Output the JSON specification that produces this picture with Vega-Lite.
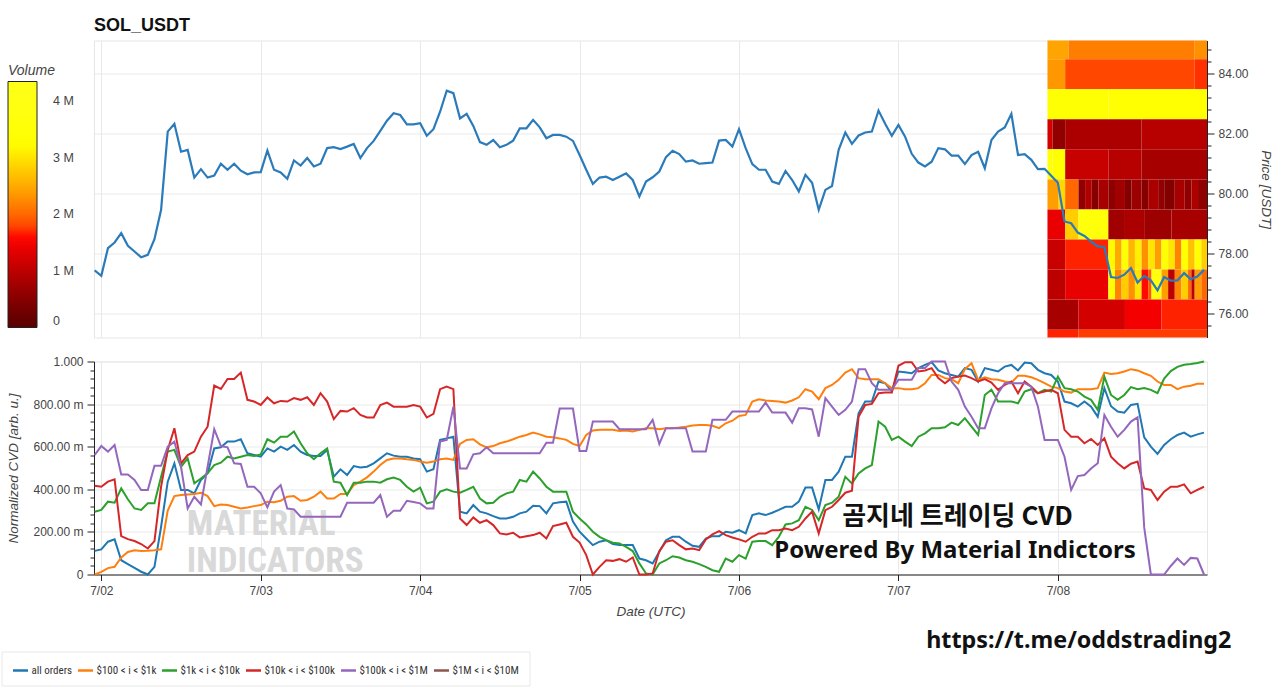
{
"$schema": "https://vega.github.io/schema/vega-lite/v6.json",
"padding": {"left": 0, "top": 15.5, "right": 0, "bottom": 0},
"background": "white",
"config": {
 "font": "Liberation Sans",
 "view": {"stroke": "#e6e6e6"},
 "axis": {"gridColor": "#e9e9e9", "gridWidth": 1, "domainColor": "#222", "tickColor": "#222", "labelColor": "#444", "labelFont": "Liberation Sans", "labelFontSize": 12, "titleFont": "Liberation Sans", "titleFontSize": 13.5, "titleFontStyle": "italic", "titleFontWeight": "normal", "titleColor": "#444"},
 "legend": {"labelFont": "Liberation Sans", "titleFont": "Liberation Sans"}
},
"datasets": {
"m": [
{"t":"2023-07-01T23:00Z","p":77.44,"a":0.111,"b":0,"c":0.295,"d":0.417,"e":0.561},
{"t":"2023-07-02T00:00Z","p":77.26,"a":0.118,"b":0.012,"c":0.303,"d":0.412,"e":0.603},
{"t":"2023-07-02T01:00Z","p":78.18,"a":0.154,"b":0.03,"c":0.342,"d":0.436,"e":0.577},
{"t":"2023-07-02T02:00Z","p":78.37,"a":0.165,"b":0.036,"c":0.337,"d":0.447,"e":0.608},
{"t":"2023-07-02T03:00Z","p":78.68,"a":0.067,"b":0.08,"c":0.404,"d":0.18,"e":0.47},
{"t":"2023-07-02T04:00Z","p":78.26,"a":0.049,"b":0.106,"c":0.353,"d":0.166,"e":0.47},
{"t":"2023-07-02T05:00Z","p":78.07,"a":0.031,"b":0.114,"c":0.31,"d":0.157,"e":0.444},
{"t":"2023-07-02T06:00Z","p":77.88,"a":0.013,"b":0.11,"c":0.303,"d":0.143,"e":0.397},
{"t":"2023-07-02T07:00Z","p":77.96,"a":0,"b":0.111,"c":0.334,"d":0.122,"e":0.397},
{"t":"2023-07-02T08:00Z","p":78.48,"a":0.036,"b":0.114,"c":0.334,"d":0.157,"e":0.51},
{"t":"2023-07-02T09:00Z","p":79.46,"a":0.224,"b":0.118,"c":0.459,"d":0.412,"e":0.51},
{"t":"2023-07-02T10:00Z","p":82.06,"a":0.436,"b":0.3,"c":0.577,"d":0.585,"e":0.6},
{"t":"2023-07-02T11:00Z","p":82.32,"a":0.522,"b":0.368,"c":0.585,"d":0.687,"e":0.624},
{"t":"2023-07-02T12:00Z","p":81.39,"a":0.397,"b":0.373,"c":0.506,"d":0.522,"e":0.506},
{"t":"2023-07-02T13:00Z","p":81.45,"a":0.397,"b":0.376,"c":0.545,"d":0.561,"e":0.31},
{"t":"2023-07-02T14:00Z","p":80.53,"a":0.381,"b":0.378,"c":0.428,"d":0.577,"e":0.365},
{"t":"2023-07-02T15:00Z","p":80.81,"a":0.444,"b":0.384,"c":0.451,"d":0.647,"e":0.329},
{"t":"2023-07-02T16:00Z","p":80.53,"a":0.475,"b":0.368,"c":0.475,"d":0.694,"e":0.506},
{"t":"2023-07-02T17:00Z","p":80.6,"a":0.592,"b":0.321,"c":0.514,"d":0.887,"e":0.682},
{"t":"2023-07-02T18:00Z","p":80.99,"a":0.597,"b":0.329,"c":0.525,"d":0.871,"e":0.603},
{"t":"2023-07-02T19:00Z","p":80.79,"a":0.624,"b":0.326,"c":0.553,"d":0.918,"e":0.597},
{"t":"2023-07-02T20:00Z","p":80.99,"a":0.624,"b":0.318,"c":0.545,"d":0.918,"e":0.522},
{"t":"2023-07-02T21:00Z","p":80.76,"a":0.635,"b":0.31,"c":0.553,"d":0.948,"e":0.519},
{"t":"2023-07-02T22:00Z","p":80.64,"a":0.569,"b":0.315,"c":0.561,"d":0.82,"e":0.412},
{"t":"2023-07-02T23:00Z","p":80.7,"a":0.561,"b":0.321,"c":0.556,"d":0.812,"e":0.412},
{"t":"2023-07-03T00:00Z","p":80.71,"a":0.553,"b":0.326,"c":0.564,"d":0.796,"e":0.381},
{"t":"2023-07-03T01:00Z","p":81.43,"a":0.592,"b":0.342,"c":0.635,"d":0.831,"e":0.315},
{"t":"2023-07-03T02:00Z","p":80.79,"a":0.577,"b":0.339,"c":0.619,"d":0.804,"e":0.389},
{"t":"2023-07-03T03:00Z","p":80.7,"a":0.6,"b":0.346,"c":0.647,"d":0.815,"e":0.42},
{"t":"2023-07-03T04:00Z","p":80.49,"a":0.585,"b":0.365,"c":0.647,"d":0.812,"e":0.31},
{"t":"2023-07-03T05:00Z","p":81.1,"a":0.608,"b":0.368,"c":0.671,"d":0.828,"e":0.306},
{"t":"2023-07-03T06:00Z","p":80.93,"a":0.577,"b":0.346,"c":0.616,"d":0.82,"e":0.271},
{"t":"2023-07-03T07:00Z","p":81.18,"a":0.561,"b":0.35,"c":0.569,"d":0.832,"e":0.271},
{"t":"2023-07-03T08:00Z","p":80.9,"a":0.556,"b":0.365,"c":0.541,"d":0.796,"e":0.271},
{"t":"2023-07-03T09:00Z","p":80.99,"a":0.556,"b":0.389,"c":0.569,"d":0.851,"e":0.271},
{"t":"2023-07-03T10:00Z","p":81.51,"a":0.585,"b":0.357,"c":0.592,"d":0.812,"e":0.271},
{"t":"2023-07-03T11:00Z","p":81.54,"a":0.459,"b":0.357,"c":0.436,"d":0.73,"e":0.271},
{"t":"2023-07-03T12:00Z","p":81.48,"a":0.494,"b":0.378,"c":0.431,"d":0.768,"e":0.271},
{"t":"2023-07-03T13:00Z","p":81.56,"a":0.467,"b":0.378,"c":0.373,"d":0.765,"e":0.337},
{"t":"2023-07-03T14:00Z","p":81.65,"a":0.509,"b":0.42,"c":0.431,"d":0.781,"e":0.337},
{"t":"2023-07-03T15:00Z","p":81.18,"a":0.502,"b":0.436,"c":0.431,"d":0.749,"e":0.337},
{"t":"2023-07-03T16:00Z","p":81.51,"a":0.506,"b":0.456,"c":0.436,"d":0.737,"e":0.337},
{"t":"2023-07-03T17:00Z","p":81.75,"a":0.522,"b":0.483,"c":0.436,"d":0.737,"e":0.337},
{"t":"2023-07-03T18:00Z","p":82.08,"a":0.545,"b":0.514,"c":0.431,"d":0.796,"e":0.373},
{"t":"2023-07-03T19:00Z","p":82.42,"a":0.569,"b":0.538,"c":0.447,"d":0.807,"e":0.271},
{"t":"2023-07-03T20:00Z","p":82.67,"a":0.558,"b":0.545,"c":0.455,"d":0.788,"e":0.299},
{"t":"2023-07-03T21:00Z","p":82.61,"a":0.553,"b":0.545,"c":0.444,"d":0.788,"e":0.299},
{"t":"2023-07-03T22:00Z","p":82.3,"a":0.553,"b":0.541,"c":0.412,"d":0.788,"e":0.346},
{"t":"2023-07-03T23:00Z","p":82.3,"a":0.545,"b":0.538,"c":0.389,"d":0.796,"e":0.34},
{"t":"2023-07-04T00:00Z","p":82.34,"a":0.541,"b":0.53,"c":0.408,"d":0.788,"e":0.334},
{"t":"2023-07-04T01:00Z","p":81.92,"a":0.483,"b":0.525,"c":0.334,"d":0.737,"e":0.31},
{"t":"2023-07-04T02:00Z","p":82.14,"a":0.494,"b":0.53,"c":0.342,"d":0.754,"e":0.31},
{"t":"2023-07-04T03:00Z","p":82.72,"a":0.632,"b":0.541,"c":0.389,"d":0.87,"e":0.624},
{"t":"2023-07-04T04:00Z","p":83.42,"a":0.639,"b":0.545,"c":0.4,"d":0.882,"e":0.632},
{"t":"2023-07-04T05:00Z","p":83.34,"a":0.647,"b":0.538,"c":0.389,"d":0.87,"e":0.788},
{"t":"2023-07-04T06:00Z","p":82.5,"a":0.295,"b":0.613,"c":0.384,"d":0.263,"e":0.498},
{"t":"2023-07-04T07:00Z","p":82.65,"a":0.287,"b":0.632,"c":0.397,"d":0.232,"e":0.498},
{"t":"2023-07-04T08:00Z","p":82.25,"a":0.326,"b":0.635,"c":0.412,"d":0.268,"e":0.564},
{"t":"2023-07-04T09:00Z","p":81.71,"a":0.295,"b":0.611,"c":0.357,"d":0.243,"e":0.569},
{"t":"2023-07-04T10:00Z","p":81.62,"a":0.287,"b":0.597,"c":0.334,"d":0.255,"e":0.597},
{"t":"2023-07-04T11:00Z","p":81.78,"a":0.274,"b":0.603,"c":0.337,"d":0.232,"e":0.569},
{"t":"2023-07-04T12:00Z","p":81.54,"a":0.263,"b":0.616,"c":0.365,"d":0.193,"e":0.569},
{"t":"2023-07-04T13:00Z","p":81.62,"a":0.263,"b":0.624,"c":0.381,"d":0.188,"e":0.569},
{"t":"2023-07-04T14:00Z","p":81.76,"a":0.271,"b":0.635,"c":0.389,"d":0.196,"e":0.569},
{"t":"2023-07-04T15:00Z","p":82.17,"a":0.287,"b":0.647,"c":0.444,"d":0.174,"e":0.569},
{"t":"2023-07-04T16:00Z","p":82.17,"a":0.295,"b":0.655,"c":0.436,"d":0.18,"e":0.569},
{"t":"2023-07-04T17:00Z","p":82.45,"a":0.323,"b":0.666,"c":0.483,"d":0.185,"e":0.569},
{"t":"2023-07-04T18:00Z","p":82.2,"a":0.321,"b":0.658,"c":0.451,"d":0.196,"e":0.569},
{"t":"2023-07-04T19:00Z","p":81.84,"a":0.287,"b":0.647,"c":0.412,"d":0.169,"e":0.619},
{"t":"2023-07-04T20:00Z","p":81.95,"a":0.334,"b":0.644,"c":0.389,"d":0.227,"e":0.619},
{"t":"2023-07-04T21:00Z","p":81.95,"a":0.339,"b":0.639,"c":0.389,"d":0.235,"e":0.779},
{"t":"2023-07-04T22:00Z","p":81.89,"a":0.342,"b":0.632,"c":0.389,"d":0.243,"e":0.779},
{"t":"2023-07-04T23:00Z","p":81.75,"a":0.248,"b":0.613,"c":0.295,"d":0.177,"e":0.779},
{"t":"2023-07-05T00:00Z","p":81.28,"a":0.201,"b":0.603,"c":0.263,"d":0.15,"e":0.58},
{"t":"2023-07-05T01:00Z","p":80.79,"a":0.169,"b":0.655,"c":0.235,"d":0.091,"e":0.58},
{"t":"2023-07-05T02:00Z","p":80.32,"a":0.138,"b":0.676,"c":0.201,"d":0,"e":0.718},
{"t":"2023-07-05T03:00Z","p":80.53,"a":0.154,"b":0.679,"c":0.177,"d":0.036,"e":0.718},
{"t":"2023-07-05T04:00Z","p":80.56,"a":0.161,"b":0.679,"c":0.161,"d":0.067,"e":0.718},
{"t":"2023-07-05T05:00Z","p":80.45,"a":0.143,"b":0.679,"c":0.149,"d":0.064,"e":0.718},
{"t":"2023-07-05T06:00Z","p":80.56,"a":0.138,"b":0.674,"c":0.146,"d":0.072,"e":0.682},
{"t":"2023-07-05T07:00Z","p":80.67,"a":0.138,"b":0.676,"c":0.13,"d":0.06,"e":0.682},
{"t":"2023-07-05T08:00Z","p":80.45,"a":0.138,"b":0.671,"c":0.11,"d":0.08,"e":0.682},
{"t":"2023-07-05T09:00Z","p":79.9,"a":0.075,"b":0.679,"c":0.052,"d":0,"e":0.682},
{"t":"2023-07-05T10:00Z","p":80.4,"a":0.067,"b":0.687,"c":0.005,"d":0,"e":0.682},
{"t":"2023-07-05T11:00Z","p":80.54,"a":0.052,"b":0.687,"c":0,"d":0.005,"e":0.726},
{"t":"2023-07-05T12:00Z","p":80.73,"a":0.107,"b":0.682,"c":0.052,"d":0.11,"e":0.613},
{"t":"2023-07-05T13:00Z","p":81.21,"a":0.161,"b":0.687,"c":0.067,"d":0.154,"e":0.687},
{"t":"2023-07-05T14:00Z","p":81.42,"a":0.177,"b":0.687,"c":0.086,"d":0.161,"e":0.687},
{"t":"2023-07-05T15:00Z","p":81.31,"a":0.177,"b":0.69,"c":0.08,"d":0.138,"e":0.687},
{"t":"2023-07-05T16:00Z","p":81.06,"a":0.154,"b":0.694,"c":0.067,"d":0.118,"e":0.687},
{"t":"2023-07-05T17:00Z","p":81.1,"a":0.135,"b":0.699,"c":0.06,"d":0.122,"e":0.577},
{"t":"2023-07-05T18:00Z","p":80.99,"a":0.13,"b":0.702,"c":0.049,"d":0.114,"e":0.577},
{"t":"2023-07-05T19:00Z","p":81.01,"a":0.169,"b":0.702,"c":0.036,"d":0.165,"e":0.577},
{"t":"2023-07-05T20:00Z","p":81.03,"a":0.18,"b":0.698,"c":0.02,"d":0.188,"e":0.726},
{"t":"2023-07-05T21:00Z","p":81.76,"a":0.18,"b":0.687,"c":0.013,"d":0.204,"e":0.726},
{"t":"2023-07-05T22:00Z","p":81.78,"a":0.201,"b":0.71,"c":0.075,"d":0.185,"e":0.726},
{"t":"2023-07-05T23:00Z","p":81.56,"a":0.196,"b":0.722,"c":0.06,"d":0.174,"e":0.765},
{"t":"2023-07-06T00:00Z","p":82.14,"a":0.208,"b":0.744,"c":0.091,"d":0.165,"e":0.765},
{"t":"2023-07-06T01:00Z","p":81.51,"a":0.193,"b":0.749,"c":0.075,"d":0.154,"e":0.765},
{"t":"2023-07-06T02:00Z","p":80.98,"a":0.279,"b":0.812,"c":0.154,"d":0.177,"e":0.765},
{"t":"2023-07-06T03:00Z","p":80.79,"a":0.287,"b":0.823,"c":0.157,"d":0.193,"e":0.765},
{"t":"2023-07-06T04:00Z","p":80.79,"a":0.279,"b":0.817,"c":0.157,"d":0.193,"e":0.807},
{"t":"2023-07-06T05:00Z","p":80.4,"a":0.29,"b":0.815,"c":0.138,"d":0.208,"e":0.76},
{"t":"2023-07-06T06:00Z","p":80.32,"a":0.303,"b":0.812,"c":0.177,"d":0.208,"e":0.76},
{"t":"2023-07-06T07:00Z","p":80.75,"a":0.318,"b":0.807,"c":0.235,"d":0.216,"e":0.76},
{"t":"2023-07-06T08:00Z","p":80.45,"a":0.318,"b":0.817,"c":0.24,"d":0.208,"e":0.713},
{"t":"2023-07-06T09:00Z","p":80.07,"a":0.342,"b":0.832,"c":0.255,"d":0.224,"e":0.78},
{"t":"2023-07-06T10:00Z","p":80.62,"a":0.408,"b":0.87,"c":0.318,"d":0.263,"e":0.78},
{"t":"2023-07-06T11:00Z","p":80.36,"a":0.408,"b":0.859,"c":0.303,"d":0.295,"e":0.775},
{"t":"2023-07-06T12:00Z","p":79.46,"a":0.306,"b":0.823,"c":0.255,"d":0.193,"e":0.647},
{"t":"2023-07-06T13:00Z","p":80.12,"a":0.444,"b":0.875,"c":0.326,"d":0.302,"e":0.828},
{"t":"2023-07-06T14:00Z","p":80.25,"a":0.444,"b":0.89,"c":0.337,"d":0.318,"e":0.788},
{"t":"2023-07-06T15:00Z","p":81.45,"a":0.483,"b":0.914,"c":0.365,"d":0.35,"e":0.749},
{"t":"2023-07-06T16:00Z","p":82.03,"a":0.553,"b":0.948,"c":0.459,"d":0.384,"e":0.773},
{"t":"2023-07-06T17:00Z","p":81.65,"a":0.553,"b":0.964,"c":0.428,"d":0.393,"e":0.812},
{"t":"2023-07-06T18:00Z","p":81.93,"a":0.757,"b":0.922,"c":0.475,"d":0.741,"e":0.964},
{"t":"2023-07-06T19:00Z","p":82.03,"a":0.812,"b":0.917,"c":0.498,"d":0.796,"e":0.964},
{"t":"2023-07-06T20:00Z","p":82.06,"a":0.812,"b":0.917,"c":0.514,"d":0.801,"e":0.898},
{"t":"2023-07-06T21:00Z","p":82.76,"a":0.906,"b":0.917,"c":0.718,"d":0.851,"e":0.867},
{"t":"2023-07-06T22:00Z","p":82.32,"a":0.898,"b":0.898,"c":0.694,"d":0.854,"e":0.867},
{"t":"2023-07-06T23:00Z","p":81.92,"a":0.859,"b":0.875,"c":0.632,"d":0.854,"e":0.867},
{"t":"2023-07-07T00:00Z","p":82.28,"a":0.953,"b":0.875,"c":0.647,"d":0.98,"e":0.914},
{"t":"2023-07-07T01:00Z","p":81.89,"a":0.95,"b":0.87,"c":0.624,"d":0.997,"e":0.914},
{"t":"2023-07-07T02:00Z","p":81.32,"a":0.945,"b":0.87,"c":0.603,"d":0.997,"e":0.914},
{"t":"2023-07-07T03:00Z","p":81.03,"a":0.969,"b":0.875,"c":0.647,"d":0.953,"e":0.969},
{"t":"2023-07-07T04:00Z","p":80.9,"a":0.984,"b":0.898,"c":0.663,"d":0.958,"e":0.969},
{"t":"2023-07-07T05:00Z","p":81.06,"a":0.997,"b":0.937,"c":0.687,"d":0.969,"e":1},
{"t":"2023-07-07T06:00Z","p":81.51,"a":0.958,"b":0.937,"c":0.687,"d":0.922,"e":1},
{"t":"2023-07-07T07:00Z","p":81.47,"a":0.945,"b":0.922,"c":0.691,"d":0.898,"e":1},
{"t":"2023-07-07T08:00Z","p":81.26,"a":0.937,"b":0.917,"c":0.713,"d":0.922,"e":0.906},
{"t":"2023-07-07T09:00Z","p":81.26,"a":0.929,"b":0.898,"c":0.702,"d":0.929,"e":0.867},
{"t":"2023-07-07T10:00Z","p":80.98,"a":0.969,"b":0.964,"c":0.734,"d":0.934,"e":0.788},
{"t":"2023-07-07T11:00Z","p":81.28,"a":0.961,"b":0.992,"c":0.694,"d":0.922,"e":0.741},
{"t":"2023-07-07T12:00Z","p":81.39,"a":0.906,"b":0.914,"c":0.655,"d":0.906,"e":0.687},
{"t":"2023-07-07T13:00Z","p":80.84,"a":0.969,"b":0.926,"c":0.843,"d":0.917,"e":0.687},
{"t":"2023-07-07T14:00Z","p":81.78,"a":0.961,"b":0.917,"c":0.867,"d":0.901,"e":0.78},
{"t":"2023-07-07T15:00Z","p":82.06,"a":0.953,"b":0.914,"c":0.812,"d":0.867,"e":0.851},
{"t":"2023-07-07T16:00Z","p":82.2,"a":0.976,"b":0.906,"c":0.812,"d":0.89,"e":0.898},
{"t":"2023-07-07T17:00Z","p":82.65,"a":0.984,"b":0.901,"c":0.812,"d":0.906,"e":0.898},
{"t":"2023-07-07T18:00Z","p":81.28,"a":0.958,"b":0.933,"c":0.804,"d":0.851,"e":0.898},
{"t":"2023-07-07T19:00Z","p":81.31,"a":0.995,"b":0.933,"c":0.859,"d":0.906,"e":0.898},
{"t":"2023-07-07T20:00Z","p":81.12,"a":0.992,"b":0.926,"c":0.87,"d":0.882,"e":0.882},
{"t":"2023-07-07T21:00Z","p":80.81,"a":0.961,"b":0.914,"c":0.851,"d":0.851,"e":0.788},
{"t":"2023-07-07T22:00Z","p":80.82,"a":0.945,"b":0.898,"c":0.867,"d":0.859,"e":0.632},
{"t":"2023-07-07T23:00Z","p":80.59,"a":0.937,"b":0.882,"c":0.859,"d":0.867,"e":0.632},
{"t":"2023-07-08T00:00Z","p":80.36,"a":0.906,"b":0.875,"c":0.929,"d":0.851,"e":0.632},
{"t":"2023-07-08T01:00Z","p":79.07,"a":0.812,"b":0.859,"c":0.875,"d":0.679,"e":0.553},
{"t":"2023-07-08T02:00Z","p":79.01,"a":0.804,"b":0.854,"c":0.87,"d":0.647,"e":0.397},
{"t":"2023-07-08T03:00Z","p":78.7,"a":0.788,"b":0.87,"c":0.859,"d":0.647,"e":0.462},
{"t":"2023-07-08T04:00Z","p":78.59,"a":0.812,"b":0.87,"c":0.835,"d":0.616,"e":0.467},
{"t":"2023-07-08T05:00Z","p":78.4,"a":0.788,"b":0.87,"c":0.82,"d":0.636,"e":0.498},
{"t":"2023-07-08T06:00Z","p":78.24,"a":0.741,"b":0.875,"c":0.773,"d":0.608,"e":0.522},
{"t":"2023-07-08T07:00Z","p":78.22,"a":0.875,"b":0.948,"c":0.929,"d":0.639,"e":0.749},
{"t":"2023-07-08T08:00Z","p":77.22,"a":0.79,"b":0.941,"c":0.843,"d":0.553,"e":0.694},
{"t":"2023-07-08T09:00Z","p":77.19,"a":0.765,"b":0.945,"c":0.82,"d":0.522,"e":0.647},
{"t":"2023-07-08T10:00Z","p":77.3,"a":0.76,"b":0.953,"c":0.843,"d":0.498,"e":0.679},
{"t":"2023-07-08T11:00Z","p":77.52,"a":0.796,"b":0.964,"c":0.88,"d":0.52,"e":0.718},
{"t":"2023-07-08T12:00Z","p":77.04,"a":0.801,"b":0.958,"c":0.87,"d":0.53,"e":0.738},
{"t":"2023-07-08T13:00Z","p":77.26,"a":0.644,"b":0.945,"c":0.875,"d":0.404,"e":0.22},
{"t":"2023-07-08T14:00Z","p":77.11,"a":0.6,"b":0.933,"c":0.867,"d":0.397,"e":0},
{"t":"2023-07-08T15:00Z","p":76.78,"a":0.566,"b":0.906,"c":0.851,"d":0.35,"e":0},
{"t":"2023-07-08T16:00Z","p":77.22,"a":0.608,"b":0.89,"c":0.92,"d":0.389,"e":0},
{"t":"2023-07-08T17:00Z","p":77.1,"a":0.635,"b":0.89,"c":0.955,"d":0.412,"e":0.04},
{"t":"2023-07-08T18:00Z","p":77.11,"a":0.655,"b":0.87,"c":0.975,"d":0.412,"e":0.075},
{"t":"2023-07-08T19:00Z","p":77.35,"a":0.666,"b":0.882,"c":0.985,"d":0.423,"e":0.045},
{"t":"2023-07-08T20:00Z","p":77.15,"a":0.647,"b":0.886,"c":0.988,"d":0.381,"e":0.078},
{"t":"2023-07-08T21:00Z","p":77.24,"a":0.658,"b":0.895,"c":0.993,"d":0.397,"e":0.075},
{"t":"2023-07-08T22:00Z","p":77.46,"a":0.666,"b":0.895,"c":1,"d":0.412,"e":0}
],
"h": [
{"t0":"2023-07-07T22:26Z","t1":"2023-07-08T01:36Z","lo":84.47,"hi":85.47,"vol":2.45},
{"t0":"2023-07-08T01:36Z","t1":"2023-07-08T20:36Z","lo":84.47,"hi":85.47,"vol":2.15},
{"t0":"2023-07-08T20:36Z","t1":"2023-07-08T22:27Z","lo":84.47,"hi":85.47,"vol":2.3},
{"t0":"2023-07-07T22:26Z","t1":"2023-07-08T01:06Z","lo":83.47,"hi":84.47,"vol":2.35},
{"t0":"2023-07-08T01:06Z","t1":"2023-07-08T20:36Z","lo":83.47,"hi":84.47,"vol":1.8},
{"t0":"2023-07-08T20:36Z","t1":"2023-07-08T22:27Z","lo":83.47,"hi":84.47,"vol":1.7},
{"t0":"2023-07-07T22:26Z","t1":"2023-07-08T07:36Z","lo":82.47,"hi":83.47,"vol":3.35},
{"t0":"2023-07-08T07:36Z","t1":"2023-07-08T22:27Z","lo":82.47,"hi":83.47,"vol":3.3},
{"t0":"2023-07-07T22:26Z","t1":"2023-07-07T23:12Z","lo":81.47,"hi":82.47,"vol":1.2},
{"t0":"2023-07-07T23:12Z","t1":"2023-07-08T01:06Z","lo":81.47,"hi":82.47,"vol":0.6},
{"t0":"2023-07-08T01:06Z","t1":"2023-07-08T12:36Z","lo":81.47,"hi":82.47,"vol":0.85},
{"t0":"2023-07-08T12:36Z","t1":"2023-07-08T22:27Z","lo":81.47,"hi":82.47,"vol":0.95},
{"t0":"2023-07-07T22:26Z","t1":"2023-07-07T23:12Z","lo":80.47,"hi":81.47,"vol":3.6},
{"t0":"2023-07-07T23:12Z","t1":"2023-07-08T01:06Z","lo":80.47,"hi":81.47,"vol":3.3},
{"t0":"2023-07-08T01:06Z","t1":"2023-07-08T07:36Z","lo":80.47,"hi":81.47,"vol":1.1},
{"t0":"2023-07-08T07:36Z","t1":"2023-07-08T12:36Z","lo":80.47,"hi":81.47,"vol":0.95},
{"t0":"2023-07-08T12:36Z","t1":"2023-07-08T22:27Z","lo":80.47,"hi":81.47,"vol":0.8},
{"t0":"2023-07-07T22:26Z","t1":"2023-07-08T00:06Z","lo":79.47,"hi":80.47,"vol":2.4},
{"t0":"2023-07-08T00:06Z","t1":"2023-07-08T01:06Z","lo":79.47,"hi":80.47,"vol":2.9},
{"t0":"2023-07-08T01:06Z","t1":"2023-07-08T03:06Z","lo":79.47,"hi":80.47,"vol":2.0},
{"t0":"2023-07-08T03:06Z","t1":"2023-07-08T04:06Z","lo":79.47,"hi":80.47,"vol":0.6},
{"t0":"2023-07-08T04:06Z","t1":"2023-07-08T05:06Z","lo":79.47,"hi":80.47,"vol":0.9},
{"t0":"2023-07-08T05:06Z","t1":"2023-07-08T06:06Z","lo":79.47,"hi":80.47,"vol":0.5},
{"t0":"2023-07-08T06:06Z","t1":"2023-07-08T07:36Z","lo":79.47,"hi":80.47,"vol":0.8},
{"t0":"2023-07-08T07:36Z","t1":"2023-07-08T08:36Z","lo":79.47,"hi":80.47,"vol":0.55},
{"t0":"2023-07-08T08:36Z","t1":"2023-07-08T10:06Z","lo":79.47,"hi":80.47,"vol":0.75},
{"t0":"2023-07-08T10:06Z","t1":"2023-07-08T11:06Z","lo":79.47,"hi":80.47,"vol":0.45},
{"t0":"2023-07-08T11:06Z","t1":"2023-07-08T12:36Z","lo":79.47,"hi":80.47,"vol":0.7},
{"t0":"2023-07-08T12:36Z","t1":"2023-07-08T13:36Z","lo":79.47,"hi":80.47,"vol":0.5},
{"t0":"2023-07-08T13:36Z","t1":"2023-07-08T15:06Z","lo":79.47,"hi":80.47,"vol":0.85},
{"t0":"2023-07-08T15:06Z","t1":"2023-07-08T16:06Z","lo":79.47,"hi":80.47,"vol":0.6},
{"t0":"2023-07-08T16:06Z","t1":"2023-07-08T17:36Z","lo":79.47,"hi":80.47,"vol":0.45},
{"t0":"2023-07-08T17:36Z","t1":"2023-07-08T19:06Z","lo":79.47,"hi":80.47,"vol":0.8},
{"t0":"2023-07-08T19:06Z","t1":"2023-07-08T20:06Z","lo":79.47,"hi":80.47,"vol":0.6},
{"t0":"2023-07-08T20:06Z","t1":"2023-07-08T21:06Z","lo":79.47,"hi":80.47,"vol":0.85},
{"t0":"2023-07-08T21:06Z","t1":"2023-07-08T22:27Z","lo":79.47,"hi":80.47,"vol":0.6},
{"t0":"2023-07-07T22:26Z","t1":"2023-07-08T01:06Z","lo":78.47,"hi":79.47,"vol":1.4},
{"t0":"2023-07-08T01:06Z","t1":"2023-07-08T03:06Z","lo":78.47,"hi":79.47,"vol":2.8},
{"t0":"2023-07-08T03:06Z","t1":"2023-07-08T07:36Z","lo":78.47,"hi":79.47,"vol":3.6},
{"t0":"2023-07-08T07:36Z","t1":"2023-07-08T10:06Z","lo":78.47,"hi":79.47,"vol":0.75},
{"t0":"2023-07-08T10:06Z","t1":"2023-07-08T13:06Z","lo":78.47,"hi":79.47,"vol":0.85},
{"t0":"2023-07-08T13:06Z","t1":"2023-07-08T17:06Z","lo":78.47,"hi":79.47,"vol":0.7},
{"t0":"2023-07-08T17:06Z","t1":"2023-07-08T22:27Z","lo":78.47,"hi":79.47,"vol":0.8},
{"t0":"2023-07-07T22:26Z","t1":"2023-07-08T01:06Z","lo":77.47,"hi":78.47,"vol":1.1},
{"t0":"2023-07-08T01:06Z","t1":"2023-07-08T07:36Z","lo":77.47,"hi":78.47,"vol":1.65},
{"t0":"2023-07-08T07:36Z","t1":"2023-07-08T08:36Z","lo":77.47,"hi":78.47,"vol":3.2},
{"t0":"2023-07-08T08:36Z","t1":"2023-07-08T09:36Z","lo":77.47,"hi":78.47,"vol":2.5},
{"t0":"2023-07-08T09:36Z","t1":"2023-07-08T10:36Z","lo":77.47,"hi":78.47,"vol":3.4},
{"t0":"2023-07-08T10:36Z","t1":"2023-07-08T11:36Z","lo":77.47,"hi":78.47,"vol":2.6},
{"t0":"2023-07-08T11:36Z","t1":"2023-07-08T12:36Z","lo":77.47,"hi":78.47,"vol":3.1},
{"t0":"2023-07-08T12:36Z","t1":"2023-07-08T13:36Z","lo":77.47,"hi":78.47,"vol":2.3},
{"t0":"2023-07-08T13:36Z","t1":"2023-07-08T14:36Z","lo":77.47,"hi":78.47,"vol":3.0},
{"t0":"2023-07-08T14:36Z","t1":"2023-07-08T15:36Z","lo":77.47,"hi":78.47,"vol":2.4},
{"t0":"2023-07-08T15:36Z","t1":"2023-07-08T16:36Z","lo":77.47,"hi":78.47,"vol":3.4},
{"t0":"2023-07-08T16:36Z","t1":"2023-07-08T17:36Z","lo":77.47,"hi":78.47,"vol":3.0},
{"t0":"2023-07-08T17:36Z","t1":"2023-07-08T18:36Z","lo":77.47,"hi":78.47,"vol":2.2},
{"t0":"2023-07-08T18:36Z","t1":"2023-07-08T19:36Z","lo":77.47,"hi":78.47,"vol":3.3},
{"t0":"2023-07-08T19:36Z","t1":"2023-07-08T20:36Z","lo":77.47,"hi":78.47,"vol":2.7},
{"t0":"2023-07-08T20:36Z","t1":"2023-07-08T21:36Z","lo":77.47,"hi":78.47,"vol":3.3},
{"t0":"2023-07-08T21:36Z","t1":"2023-07-08T22:27Z","lo":77.47,"hi":78.47,"vol":2.8},
{"t0":"2023-07-07T22:26Z","t1":"2023-07-08T01:06Z","lo":76.47,"hi":77.47,"vol":1.0},
{"t0":"2023-07-08T01:06Z","t1":"2023-07-08T07:36Z","lo":76.47,"hi":77.47,"vol":1.4},
{"t0":"2023-07-08T07:36Z","t1":"2023-07-08T08:36Z","lo":76.47,"hi":77.47,"vol":3.4},
{"t0":"2023-07-08T08:36Z","t1":"2023-07-08T09:36Z","lo":76.47,"hi":77.47,"vol":2.2},
{"t0":"2023-07-08T09:36Z","t1":"2023-07-08T10:36Z","lo":76.47,"hi":77.47,"vol":2.8},
{"t0":"2023-07-08T10:36Z","t1":"2023-07-08T11:36Z","lo":76.47,"hi":77.47,"vol":2.3},
{"t0":"2023-07-08T11:36Z","t1":"2023-07-08T12:36Z","lo":76.47,"hi":77.47,"vol":3.0},
{"t0":"2023-07-08T12:36Z","t1":"2023-07-08T13:36Z","lo":76.47,"hi":77.47,"vol":1.6},
{"t0":"2023-07-08T13:36Z","t1":"2023-07-08T14:06Z","lo":76.47,"hi":77.47,"vol":1.9},
{"t0":"2023-07-08T14:06Z","t1":"2023-07-08T15:36Z","lo":76.47,"hi":77.47,"vol":3.7},
{"t0":"2023-07-08T15:36Z","t1":"2023-07-08T16:36Z","lo":76.47,"hi":77.47,"vol":2.4},
{"t0":"2023-07-08T16:36Z","t1":"2023-07-08T17:36Z","lo":76.47,"hi":77.47,"vol":1.0},
{"t0":"2023-07-08T17:36Z","t1":"2023-07-08T18:36Z","lo":76.47,"hi":77.47,"vol":2.2},
{"t0":"2023-07-08T18:36Z","t1":"2023-07-08T19:36Z","lo":76.47,"hi":77.47,"vol":2.8},
{"t0":"2023-07-08T19:36Z","t1":"2023-07-08T20:06Z","lo":76.47,"hi":77.47,"vol":2.0},
{"t0":"2023-07-08T20:06Z","t1":"2023-07-08T20:36Z","lo":76.47,"hi":77.47,"vol":1.0},
{"t0":"2023-07-08T20:36Z","t1":"2023-07-08T21:36Z","lo":76.47,"hi":77.47,"vol":2.4},
{"t0":"2023-07-08T21:36Z","t1":"2023-07-08T22:27Z","lo":76.47,"hi":77.47,"vol":2.0},
{"t0":"2023-07-07T22:26Z","t1":"2023-07-08T03:06Z","lo":75.47,"hi":76.47,"vol":0.8},
{"t0":"2023-07-08T03:06Z","t1":"2023-07-08T10:06Z","lo":75.47,"hi":76.47,"vol":1.2},
{"t0":"2023-07-08T10:06Z","t1":"2023-07-08T15:36Z","lo":75.47,"hi":76.47,"vol":1.5},
{"t0":"2023-07-08T15:36Z","t1":"2023-07-08T22:27Z","lo":75.47,"hi":76.47,"vol":1.65},
{"t0":"2023-07-07T22:26Z","t1":"2023-07-08T03:06Z","lo":74.47,"hi":75.47,"vol":1.65},
{"t0":"2023-07-08T03:06Z","t1":"2023-07-08T22:27Z","lo":74.47,"hi":75.47,"vol":1.75}
]
},
"spacing": 24,
"bounds": "flush",
"resolve": {"scale": {"color": "independent", "fill": "independent"}, "legend": {"color": "independent", "fill": "independent"}},
"vconcat": [
{
 "width": 1113,
 "height": 297,
 "title": {"text": "SOL_USDT", "anchor": "start", "frame": "group", "fontSize": 18, "fontWeight": "bold", "font": "Liberation Sans", "color": "#111", "offset": 6},
 "layer": [
  {
   "data": {"name": "h"},
   "mark": {"type": "rect", "clip": true},
   "encoding": {
    "x": {"field": "t0", "type": "temporal",
      "scale": {"type": "utc", "domain": [{"year":2023,"month":7,"date":1,"hours":22,"minutes":54,"utc":true},{"year":2023,"month":7,"date":8,"hours":22,"minutes":27,"utc":true}]},
      "axis": {"title": null, "labels": false, "ticks": false, "domain": false, "grid": true, "tickCount": 100,
        "values": [{"year":2023,"month":7,"date":2,"utc":true},{"year":2023,"month":7,"date":3,"utc":true},{"year":2023,"month":7,"date":4,"utc":true},{"year":2023,"month":7,"date":5,"utc":true},{"year":2023,"month":7,"date":6,"utc":true},{"year":2023,"month":7,"date":7,"utc":true},{"year":2023,"month":7,"date":8,"utc":true}]}},
    "x2": {"field": "t1"},
    "y": {"field": "lo", "type": "quantitative",
      "scale": {"domain": [75.21, 85.09], "nice": false, "zero": false},
      "axis": {"orient": "right", "title": "Price [USDT]", "titlePadding": 10, "tickCount": 100,
        "values": [75.6,76,76.4,76.8,77.2,77.6,78,78.4,78.8,79.2,79.6,80,80.4,80.8,81.2,81.6,82,82.4,82.8,83.2,83.6,84,84.4,84.8],
        "labelExpr": "abs(datum.value/2-round(datum.value/2))<0.001 ? format(datum.value, '.2f') : ''",
        "labelOverlap": false, "labelPadding": 4,
        "tickSize": {"condition": {"test": "abs(datum.value/2-round(datum.value/2))<0.001", "value": 7}, "value": 4},
        "gridOpacity": {"condition": {"test": "abs(datum.value/2-round(datum.value/2))<0.001", "value": 1}, "value": 0}}},
    "y2": {"field": "hi"},
    "fill": {"field": "vol", "type": "quantitative",
      "scale": {"domain": [0, 1.59, 3.25, 4.35], "range": ["#000000", "#ff0000", "#ffff00", "#ffffff"]},
      "legend": {"orient": "none", "legendX": -86, "legendY": 23, "direction": "vertical", "title": "Volume",
        "titleFontStyle": "italic", "titleFontWeight": "normal", "titleFontSize": 14, "titleColor": "#444", "titlePadding": 4,
        "gradientLength": 246, "gradientThickness": 29, "gradientStrokeColor": "#222", "gradientStrokeWidth": 1,
        "values": [0, 1, 2, 3, 4], "labelExpr": "datum.value == 0 ? '0' : datum.value + ' M'",
        "labelFontSize": 12.5, "labelColor": "#444", "labelOffset": 16, "labelOverlap": false}}
   }
  },
  {
   "data": {"name": "m"},
   "mark": {"type": "line", "color": "#2b7bba", "strokeWidth": 2.2},
   "encoding": {
    "x": {"field": "t", "type": "temporal"},
    "y": {"field": "p", "type": "quantitative"}
   }
  }
 ]
},
{
 "width": 1113,
 "height": 213,
 "encoding": {
  "x": {"field": "t", "type": "temporal",
    "scale": {"type": "utc", "domain": [{"year":2023,"month":7,"date":1,"hours":22,"minutes":54,"utc":true},{"year":2023,"month":7,"date":8,"hours":22,"minutes":27,"utc":true}]},
    "axis": {"title": "Date (UTC)", "tickSize": 6, "labelPadding": 5, "titlePadding": 8, "tickCount": 100,
      "labelExpr": "utcFormat(datum.value, '%-m/%d')",
      "values": [{"year":2023,"month":7,"date":2,"utc":true},{"year":2023,"month":7,"date":3,"utc":true},{"year":2023,"month":7,"date":4,"utc":true},{"year":2023,"month":7,"date":5,"utc":true},{"year":2023,"month":7,"date":6,"utc":true},{"year":2023,"month":7,"date":7,"utc":true},{"year":2023,"month":7,"date":8,"utc":true}]}},
  "y": {"field": "v", "type": "quantitative",
    "scale": {"domain": [0, 1], "nice": false, "zero": false},
    "axis": {"title": "Normalized CVD [arb. u.]", "titlePadding": 12, "tickCount": 100,
      "values": [0,0.04,0.08,0.12,0.16,0.2,0.24,0.28,0.32,0.36,0.4,0.44,0.48,0.52,0.56,0.6,0.64,0.68,0.72,0.76,0.8,0.84,0.88,0.92,0.96,1],
      "labelExpr": "abs(datum.value*5-round(datum.value*5))<0.001 ? (datum.value == 0 ? '0' : datum.value > 0.999 ? '1.000' : format(datum.value*1000, '.2f') + ' m') : ''",
      "labelOverlap": false, "labelPadding": 4,
      "tickSize": {"condition": {"test": "abs(datum.value*5-round(datum.value*5))<0.001", "value": 7}, "value": 4},
      "gridOpacity": {"condition": {"test": "abs(datum.value*5-round(datum.value*5))<0.001", "value": 1}, "value": 0}}}
 },
 "layer": [
  {
   "data": {"values": [
     {"t": "2023-07-02T12:52Z", "v": 0.185, "s": "MATERIAL"},
     {"t": "2023-07-02T12:52Z", "v": 0.011, "s": "INDICATORS"}
   ]},
   "mark": {"type": "text", "align": "left", "baseline": "alphabetic", "font": "Roboto Condensed, Liberation Sans", "fontWeight": "bold", "fontSize": 35, "color": "#d9d9d9"},
   "encoding": {"text": {"field": "s"}}
  },
  {
   "data": {"name": "m"},
   "transform": [{"fold": ["a", "b", "c", "d", "e"], "as": ["s", "v"]}],
   "mark": {"type": "line", "strokeWidth": 2},
   "encoding": {
    "color": {"field": "s", "type": "nominal",
      "scale": {"domain": ["a", "b", "c", "d", "e", "f"], "range": ["#1f77b4", "#ff7f0e", "#2ca02c", "#d62728", "#9467bd", "#8c564b"]},
      "legend": {"orient": "none", "legendX": -92.5, "legendY": 290, "direction": "horizontal", "columns": 6, "title": null,
        "symbolType": "stroke", "symbolStrokeWidth": 2.5, "symbolSize": 225,
        "labelFont": "Roboto Condensed, Liberation Sans", "labelFontSize": 11, "labelColor": "#333", "labelLimit": 200,
        "padding": 10, "strokeColor": "#e8e8e8", "fillColor": "#ffffff", "columnPadding": 0, "labelOffset": 2,
        "labelExpr": "datum.value == 'a' ? 'all orders' : datum.value == 'b' ? '$100 < i < $1k' : datum.value == 'c' ? '$1k < i < $10k' : datum.value == 'd' ? '$10k < i < $100k' : datum.value == 'e' ? '$100k < i < $1M' : '$1M < i < $10M'"}}
   }
  },
  {
   "data": {"values": [{"t": "2023-07-07T08:54Z", "v": 0.234, "s": "곰지네 트레이딩 CVD"}]},
   "mark": {"type": "text", "align": "center", "baseline": "alphabetic", "font": "Noto Sans CJK KR", "fontWeight": "bold", "fontSize": 26, "color": "#111"},
   "encoding": {"text": {"field": "s"}}
  },
  {
   "data": {"values": [
     {"t": "2023-07-07T08:31Z", "v": 0.077, "s": "Powered By Material Indictors"}
   ]},
   "mark": {"type": "text", "align": "center", "baseline": "alphabetic", "font": "Noto Sans", "fontWeight": "bold", "fontSize": 24, "color": "#111"},
   "encoding": {"text": {"field": "s"}}
  },
  {
   "data": {"values": [
     {"t": "2023-07-08T03:09Z", "v": -0.347, "s": "https://t.me/oddstrading2"}
   ]},
   "mark": {"type": "text", "align": "center", "baseline": "alphabetic", "font": "Noto Sans", "fontWeight": "bold", "fontSize": 23.3, "color": "#111"},
   "encoding": {"text": {"field": "s"}}
  }
 ]
}
]
}
